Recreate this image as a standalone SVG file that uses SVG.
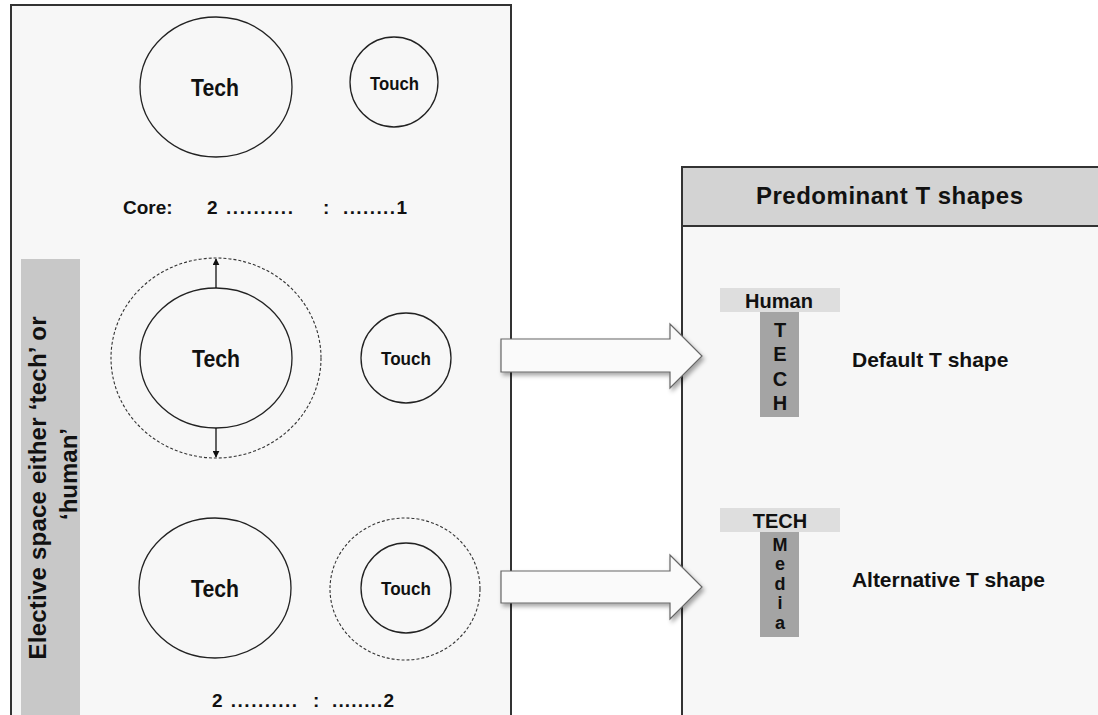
<svg xmlns="http://www.w3.org/2000/svg" width="1098" height="715" viewBox="0 0 1098 715">
  <defs>
    <style>
      .t { font-family: "Liberation Sans", Arial, sans-serif; font-weight: bold; fill: #111; }
      .solid { fill: none; stroke: #222; stroke-width: 1.3; }
      .dash { fill: none; stroke: #333; stroke-width: 1.1; stroke-dasharray: 3 2; }
      .panel { fill: #f7f7f7; stroke: #333; stroke-width: 2; }
      .bigarrow { fill: #fafafa; stroke: #666; stroke-width: 1.2; filter: url(#sh); }
    </style>
    <marker id="ah" viewBox="0 0 10 10" refX="9" refY="5" markerWidth="7" markerHeight="7" orient="auto" markerUnits="userSpaceOnUse">
      <path d="M0,0 L10,5 L0,10 Z" fill="#111"/>
    </marker>
    <filter id="sh" x="-10%" y="-20%" width="130%" height="160%">
      <feDropShadow dx="2" dy="3" stdDeviation="2" flood-color="#000" flood-opacity="0.35"/>
    </filter>
  </defs>
  <rect x="0" y="0" width="1098" height="715" fill="#ffffff"/>

  <!-- Left panel -->
  <g id="left-panel">
    <rect class="panel" x="11" y="5" width="500" height="730"/>
    <rect x="21" y="259" width="59" height="470" fill="#c8c8c8"/>
    <text class="t" font-size="24" transform="translate(46,488) rotate(-90)" text-anchor="middle" textLength="343">Elective space either ‘tech’ or</text>
    <text class="t" font-size="24" transform="translate(77,474) rotate(-90)" text-anchor="middle">‘human’</text>
  </g>

  <!-- Right panel -->
  <g id="right-panel">
    <rect class="panel" x="682" y="167" width="430" height="570"/>
    <rect x="682" y="167" width="430" height="59" fill="#d3d3d3" stroke="#333" stroke-width="2"/>
    <text class="t" font-size="24" x="756" y="204" textLength="267">Predominant T shapes</text>
  </g>

  <!-- Row 1 -->
  <g id="row1-tech">
    <ellipse class="solid" cx="216" cy="87" rx="76" ry="70"/>
    <text class="t" font-size="24" x="191" y="96" textLength="48" lengthAdjust="spacingAndGlyphs">Tech</text>
  </g>
  <g id="row1-touch">
    <ellipse class="solid" cx="394" cy="82" rx="44" ry="45"/>
    <text class="t" font-size="19" x="370" y="90" textLength="49" lengthAdjust="spacingAndGlyphs">Touch</text>
  </g>
  <g id="core-ratio">
    <text class="t" font-size="19" x="123" y="214">Core:</text>
    <text class="t" font-size="19" x="207" y="214" textLength="86">2 ..........</text>
    <text class="t" font-size="19" x="323" y="214">:</text>
    <text class="t" font-size="19" x="343" y="214" textLength="64">........1</text>
  </g>

  <!-- Row 2 -->
  <g id="row2-tech">
    <ellipse class="dash" cx="216" cy="358" rx="105" ry="100"/>
    <ellipse class="solid" cx="216" cy="358" rx="76" ry="70"/>
    <text class="t" font-size="24" x="192" y="367" textLength="48" lengthAdjust="spacingAndGlyphs">Tech</text>
  </g>
  <g id="row2-touch">
    <ellipse class="solid" cx="406" cy="358" rx="45" ry="45"/>
    <text class="t" font-size="19" x="381" y="365" textLength="50" lengthAdjust="spacingAndGlyphs">Touch</text>
  </g>

  <!-- Row 3 -->
  <g id="row3-tech">
    <ellipse class="solid" cx="215" cy="588" rx="76" ry="70"/>
    <text class="t" font-size="24" x="191" y="597" textLength="48" lengthAdjust="spacingAndGlyphs">Tech</text>
  </g>
  <g id="row3-touch">
    <ellipse class="dash" cx="405" cy="589" rx="75" ry="71"/>
    <ellipse class="solid" cx="406" cy="588" rx="45" ry="45"/>
    <text class="t" font-size="19" x="381" y="595" textLength="50" lengthAdjust="spacingAndGlyphs">Touch</text>
  </g>
  <g id="ratio-2">
    <text class="t" font-size="19" x="212" y="707" textLength="85">2 ..........</text>
    <text class="t" font-size="19" x="313" y="707">:</text>
    <text class="t" font-size="19" x="332" y="707" textLength="62">........2</text>
  </g>

  <!-- T shapes -->
  <g id="default-t">
    <rect x="720" y="288" width="120" height="24" fill="#dedede"/>
    <rect x="760" y="312" width="39" height="105" fill="#a4a4a4"/>
    <text class="t" font-size="20" x="779" y="308" text-anchor="middle">Human</text>
    <g class="t" font-size="20" text-anchor="middle">
      <text x="780" y="337">T</text>
      <text x="780" y="361">E</text>
      <text x="780" y="386">C</text>
      <text x="780" y="410">H</text>
    </g>
    <text class="t" font-size="21" x="852" y="367">Default T shape</text>
  </g>
  <g id="alternative-t">
    <rect x="720" y="508" width="120" height="24" fill="#dedede"/>
    <rect x="760" y="532" width="39" height="105" fill="#a4a4a4"/>
    <text class="t" font-size="20" x="780" y="528" text-anchor="middle">TECH</text>
    <g class="t" font-size="18" text-anchor="middle">
      <text x="780" y="551">M</text>
      <text x="780" y="570">e</text>
      <text x="780" y="590">d</text>
      <text x="780" y="609">i</text>
      <text x="780" y="629">a</text>
    </g>
    <text class="t" font-size="21" x="852" y="587" textLength="193">Alternative  T shape</text>
  </g>

  <!-- Connectors -->
  <g id="connectors">
    <line x1="216" y1="288" x2="216" y2="259" stroke="#111" stroke-width="1.3" marker-end="url(#ah)"/>
    <line x1="216" y1="428" x2="216" y2="457" stroke="#111" stroke-width="1.3" marker-end="url(#ah)"/>
    <path class="bigarrow" d="M501,339 L670,339 L670,324 L702,356 L670,388 L670,372 L501,372 Z"/>
    <path class="bigarrow" d="M501,571 L670,571 L670,555 L702,587 L670,619 L670,603 L501,603 Z"/>
  </g>
</svg>
